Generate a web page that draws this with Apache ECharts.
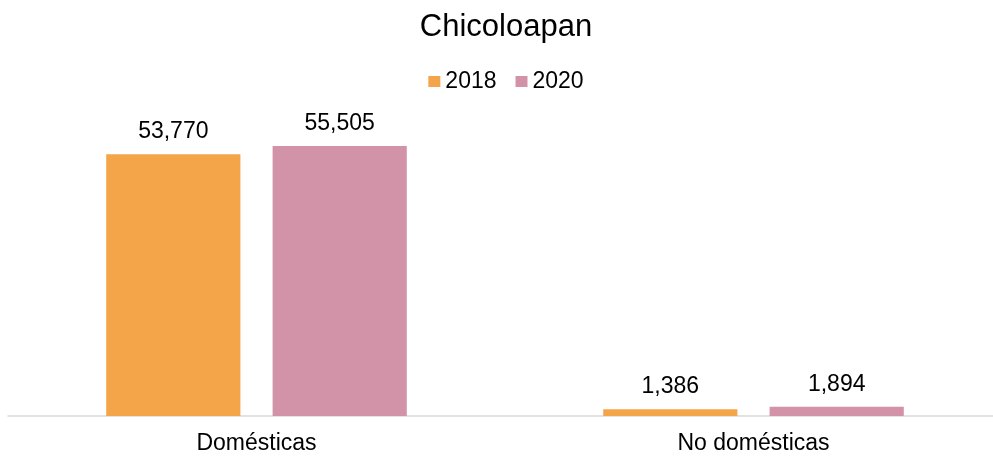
<!DOCTYPE html>
<html>
<head>
<meta charset="utf-8">
<script src="https://cdn.jsdelivr.net/npm/echarts@6/dist/echarts.min.js"></script>
<style>
  html, body { margin: 0; padding: 0; background: #fff; overflow: hidden; }
  #chart { width: 1012px; height: 456px; }
</style>
</head>
<body>
<div id="chart"></div>
<script>
const categories = ["Domésticas", "No domésticas"];
const values2018 = [53770, 1386];
const values2020 = [55505, 1894];

const font = "'Liberation Sans', Arial, sans-serif";
const myChart = echarts.init(document.getElementById("chart"));

const labelStyle = {
  show: true,
  position: "top",
  distance: 11,
  color: "#000",
  fontSize: 23,
  fontFamily: font,
  formatter: (p) => p.value.toLocaleString("en-US"),
};

const option = {
  animation: false,
  title: {
    text: "Chicoloapan",
    left: "center",
    top: 7,
    textStyle: { color: "#000", fontSize: 31, fontWeight: "normal", fontFamily: font },
  },
  legend: {
    top: 65,
    left: "center",
    icon: "rect",
    itemWidth: 12,
    itemHeight: 11,
    itemGap: 19,
    textStyle: { color: "#000", fontSize: 23, fontFamily: font },
    data: ["2018", "2020"],
  },
  grid: { left: 8, right: 10, top: 124, bottom: 40 },
  xAxis: {
    type: "category",
    data: categories,
    axisLine: { lineStyle: { color: "#d9d9d9", width: 1.5 } },
    axisTick: { show: false },
    axisLabel: { color: "#000", fontSize: 23, fontFamily: font, margin: 16 },
  },
  yAxis: {
    type: "value",
    min: 0,
    max: 60000,
    show: false,
    splitLine: { show: false },
  },
  series: [
    {
      name: "2018",
      type: "bar",
      barWidth: "27%",
      barGap: "24%",
      itemStyle: { color: "#F4A54A" },
      label: labelStyle,
      data: values2018,
    },
    {
      name: "2020",
      type: "bar",
      barWidth: "27%",
      barGap: "24%",
      itemStyle: { color: "#D293A8" },
      label: labelStyle,
      data: values2020,
    },
  ],
};

myChart.setOption(option);
</script>
</body>
</html>
